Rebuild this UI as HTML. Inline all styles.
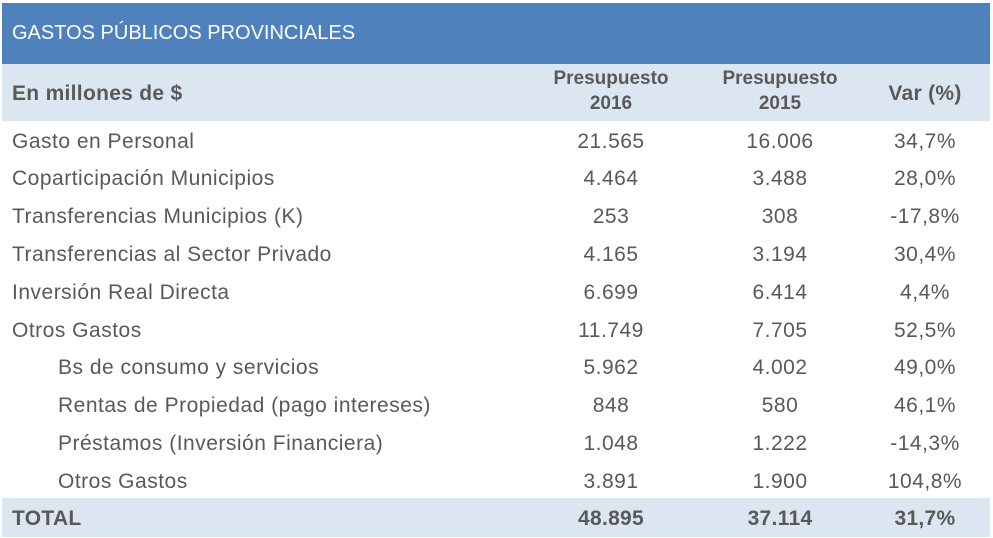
<!DOCTYPE html>
<html><head><meta charset="utf-8"><style>
body{margin:0;width:993px;height:537px;background:#fff;font-family:"Liberation Sans",sans-serif;color:#595959;position:relative;overflow:hidden}
.t{position:absolute;left:2px;top:3px;width:988px;height:61px;background:#4F81BD;color:#fff;font-size:20px;line-height:61px;text-indent:10px}
.h{position:absolute;left:2px;top:64px;width:988px;height:57px;background:#DCE6F1}
.tot{position:absolute;left:2px;top:498px;width:988px;height:39px;background:#DCE6F1}
.r{position:absolute;left:0;width:993px;height:38px;line-height:38px;font-size:21px;letter-spacing:0.5px}
.r span{position:absolute;white-space:nowrap}
.a{left:12px}.i{left:58px}
.c1{left:541px;width:140px;text-align:center}
.c2{left:710px;width:140px;text-align:center}
.c3{left:855px;width:140px;text-align:center}
.b{font-weight:bold;letter-spacing:0.3px}
.hd{position:absolute;font-weight:bold;font-size:19px;line-height:25px;text-align:center}
</style></head><body>
<div class="t">GASTOS PÚBLICOS PROVINCIALES</div>
<div class="h"></div>
<div class="tot"></div>
<div class="r b" style="top:75px"><span class="a">En millones de $</span><span class="c3">Var (%)</span></div>
<div class="hd" style="left:541px;width:140px;top:66px">Presupuesto<br>2016</div>
<div class="hd" style="left:710px;width:140px;top:66px">Presupuesto<br>2015</div>
<div class="r" style="top:123px"><span class="a">Gasto en Personal</span><span class="c1">21.565</span><span class="c2">16.006</span><span class="c3">34,7%</span></div>
<div class="r" style="top:160px"><span class="a">Coparticipación Municipios</span><span class="c1">4.464</span><span class="c2">3.488</span><span class="c3">28,0%</span></div>
<div class="r" style="top:198px"><span class="a">Transferencias Municipios (K)</span><span class="c1">253</span><span class="c2">308</span><span class="c3">-17,8%</span></div>
<div class="r" style="top:236px"><span class="a">Transferencias al Sector Privado</span><span class="c1">4.165</span><span class="c2">3.194</span><span class="c3">30,4%</span></div>
<div class="r" style="top:274px"><span class="a">Inversión Real Directa</span><span class="c1">6.699</span><span class="c2">6.414</span><span class="c3">4,4%</span></div>
<div class="r" style="top:312px"><span class="a">Otros Gastos</span><span class="c1">11.749</span><span class="c2">7.705</span><span class="c3">52,5%</span></div>
<div class="r" style="top:349px"><span class="i">Bs de consumo y servicios</span><span class="c1">5.962</span><span class="c2">4.002</span><span class="c3">49,0%</span></div>
<div class="r" style="top:387px"><span class="i">Rentas de Propiedad (pago intereses)</span><span class="c1">848</span><span class="c2">580</span><span class="c3">46,1%</span></div>
<div class="r" style="top:425px"><span class="i">Préstamos (Inversión Financiera)</span><span class="c1">1.048</span><span class="c2">1.222</span><span class="c3">-14,3%</span></div>
<div class="r" style="top:463px"><span class="i">Otros Gastos</span><span class="c1">3.891</span><span class="c2">1.900</span><span class="c3">104,8%</span></div>
<div class="r b" style="top:500px"><span class="a">TOTAL</span><span class="c1">48.895</span><span class="c2">37.114</span><span class="c3">31,7%</span></div>
</body></html>
